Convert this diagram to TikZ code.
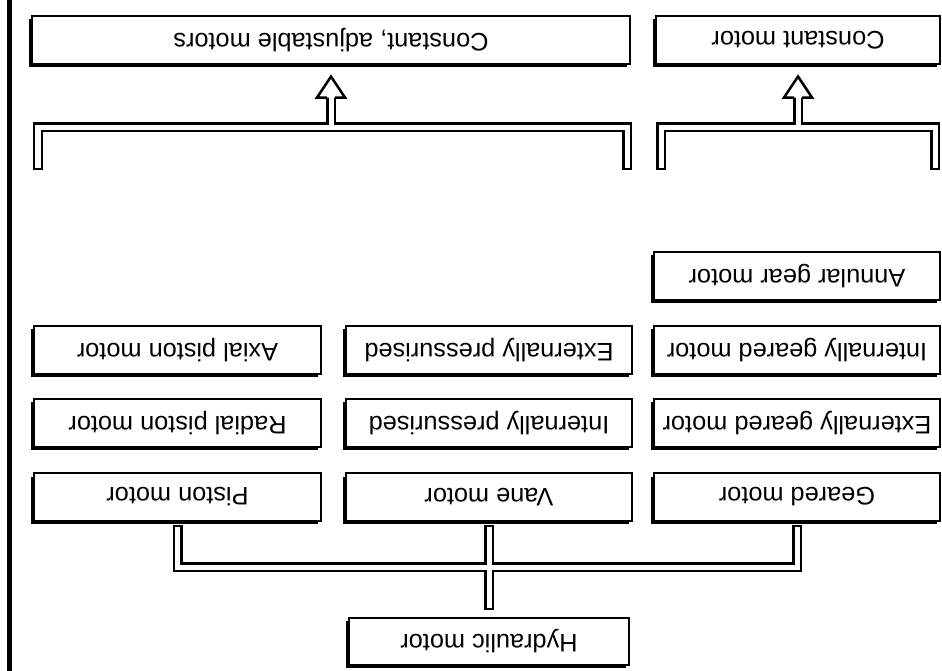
\documentclass[tikz,border=0pt]{standalone}
\usepackage{fontspec}
\setmainfont{Liberation Sans}
\usepackage{graphicx}
\usetikzlibrary{shadows}

\newcommand{\kopf}[1]{\rotatebox{180}{#1}}

\begin{document}
\begin{tikzpicture}[x=0.025cm, y=-0.025cm,
				box/.style={draw, line width=0.05cm, fill=white, minimum width=7.15cm, minimum height=1.175cm, inner sep=0pt,
					drop shadow={shadow xshift=-0.075cm, shadow yshift=-0.075cm, opacity=1, fill=black}},
				pipe/.style={line width=0.0625cm, double=white, double distance=0.125cm, line cap=rect, line join=miter},
				tip/.style={draw, line width=0.0625cm, fill=white, line join=miter},
				font=\fontsize{18}{20}\selectfont]
				\useasboundingbox (0,0) rectangle (942,671);
				% Randlinie
				\draw[line width=0.1cm] (9.5,0) -- (9.5,671);
				% Kaesten
				\node[box, minimum width=14.95cm] (cam) at (331,40) {\kopf{Constant, adjustable motors}};
				\node[box, minimum width=7.1cm] (cm) at (798,40) {\kopf{Constant motor}};
				\node[box] (annular) at (797,276) {\kopf{Annular gear motor}};
				\node[box] (axial) at (177.5,350) {\kopf{Axial piston motor}};
				\node[box] (express) at (489,350) {\kopf{Externally pressurised}};
				\node[box] (intgear) at (797,350) {\kopf{Internally geared motor}};
				\node[box] (radial) at (177.5,423) {\kopf{Radial piston motor}};
				\node[box] (inpress) at (489,423) {\kopf{Internally pressurised}};
				\node[box] (extgear) at (797,423) {\kopf{Externally geared motor}};
				\node[box] (piston) at (177.5,497) {\kopf{Piston motor}};
				\node[box] (vane) at (489,497) {\kopf{Vane motor}};
				\node[box] (geared) at (797,497) {\kopf{Geared motor}};
				\node[box, minimum width=7cm] (hydraulic) at (489,641) {\kopf{Hydraulic motor}};
				% Verbindungen unten
				\coordinate (hub) at (489,567);
				\draw[pipe] ([yshift=-0.2cm]piston.south) |- (hub) -| ([yshift=-0.2cm]geared.south)
					([yshift=-0.2cm]vane.south) -- ([yshift=0.275cm]hydraulic.north);
				% Klammern oben
				\coordinate (l1) at (38,165); \coordinate (r1) at (627,165); \coordinate (j1) at (331,127);
				\coordinate (l2) at (661,165); \coordinate (r2) at (935,165); \coordinate (j2) at (798,127);
				\draw[pipe] (l1) |- (j1) -| (r1) (j1) -- ([yshift=-0.825cm]cam.south)
					(l2) |- (j2) -| (r2) (j2) -- ([yshift=-0.825cm]cm.south);
				% Pfeilspitzen
				\foreach \n in {cam, cm}
					\draw[tip] ([shift={(-0.1cm,-0.825cm)}]\n.south) -- ([shift={(-0.35cm,-0.825cm)}]\n.south)
						-- ([yshift=-0.3cm]\n.south) -- ([shift={(0.35cm,-0.825cm)}]\n.south) -- ([shift={(0.1cm,-0.825cm)}]\n.south);
			\end{tikzpicture}
\end{document}
